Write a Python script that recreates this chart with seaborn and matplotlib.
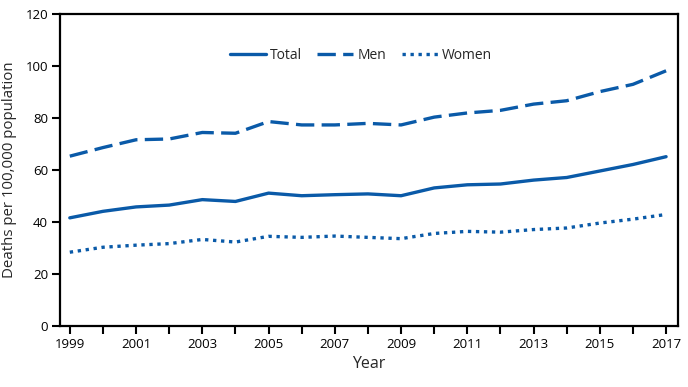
import numpy as np
import matplotlib
matplotlib.use("Agg")
import matplotlib.pyplot as plt
import pandas as pd
import seaborn as sns

years = list(range(1999, 2018))
total = [41.5, 44.0, 45.7, 46.4, 48.5, 47.8, 51.0, 50.0, 50.4, 50.7, 50.0, 53.0, 54.2, 54.5, 56.0, 57.0, 59.5, 62.0, 65.0]
men = [65.2, 68.5, 71.5, 71.8, 74.3, 74.0, 78.5, 77.2, 77.2, 77.8, 77.2, 80.2, 81.8, 82.8, 85.2, 86.5, 90.0, 92.8, 98.0]
women = [28.3, 30.2, 31.0, 31.6, 33.2, 32.2, 34.4, 34.0, 34.5, 34.0, 33.5, 35.5, 36.3, 36.0, 37.0, 37.6, 39.5, 41.0, 42.8]

df = pd.DataFrame({"Year": years, "Total": total, "Men": men, "Women": women})
long = df.melt(id_vars="Year", var_name="Group", value_name="Rate")

sns.set_style("ticks")
plt.rcParams['font.family'] = ['Open Sans', 'DejaVu Sans']

fig, ax = plt.subplots(figsize=(6.88, 3.87), dpi=100)
blue = "#0a5aa8"
sns.lineplot(data=long, x="Year", y="Rate", style="Group",
             dashes={"Total": "", "Men": (5.5, 2.2), "Women": (1, 1.4)},
             color=blue, linewidth=2.4, ax=ax)

ax.set_xlim(1998.7, 2017.35)
ax.set_ylim(0, 120)
ax.set_xticks(years)
ax.set_xticklabels([str(y) if y % 2 == 1 else "" for y in years])
ax.set_yticks(range(0, 121, 20))
ax.tick_params(axis="both", direction="out", length=5.5, width=1.5, labelsize=9.5,
               colors="black", pad=3)
for s in ax.spines.values():
    s.set_linewidth(1.6)
    s.set_color("black")
ax.set_xlabel("Year", fontsize=11.5, labelpad=4)
ax.set_ylabel("Deaths per 100,000 population", fontsize=10.8, labelpad=6)

leg = ax.legend(loc="upper center", bbox_to_anchor=(0.487, 0.93), ncol=3, frameon=False,
                fontsize=10, handlelength=2.6, columnspacing=1.1, handletextpad=0.3)
leg.set_title(None)

plt.subplots_adjust(left=0.087, right=0.985, top=0.965, bottom=0.158)
fig.savefig("out.png", dpi=100)
